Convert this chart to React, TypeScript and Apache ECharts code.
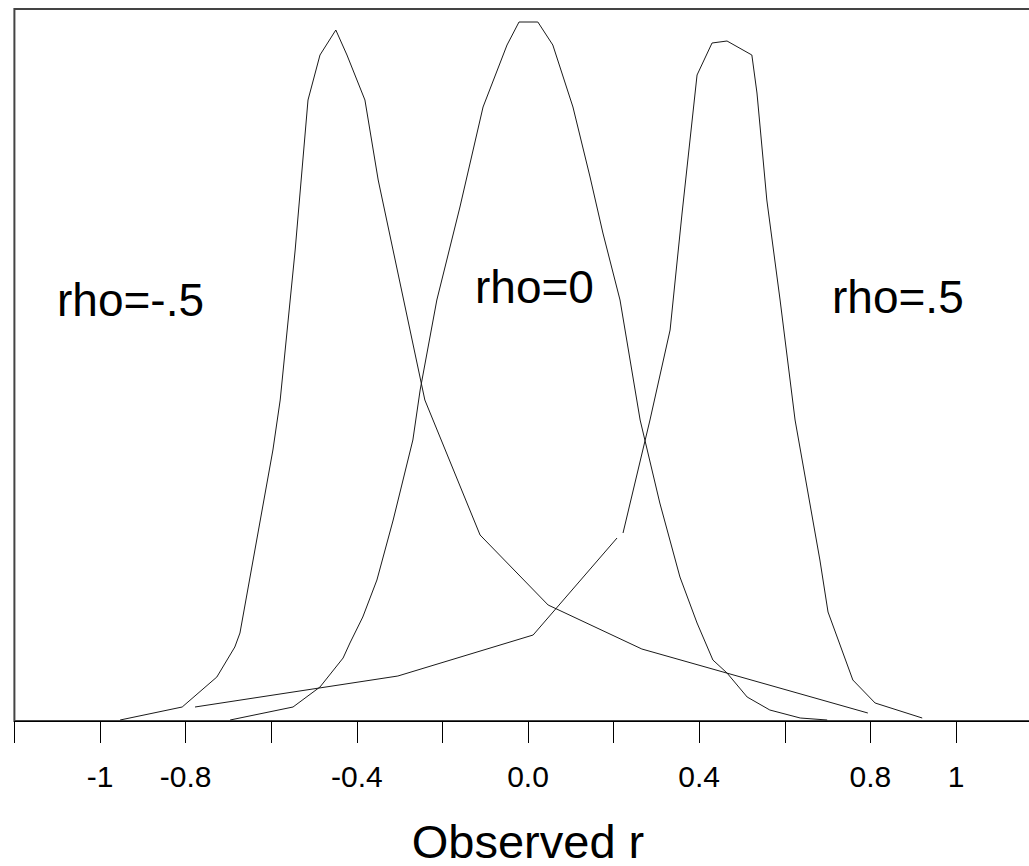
import React, { useEffect, useRef } from "react";
import * as echarts from "echarts";

// Observed r (x) and relative frequency (y) for each sampling distribution
const rhoNeg: [number, number][] = [
  [-0.953, 0.01], [-0.808, 0.14], [-0.727, 0.44], [-0.685, 0.74], [-0.673, 0.88],
  [-0.596, 2.71], [-0.579, 3.21], [-0.544, 4.71], [-0.514, 6.21], [-0.486, 6.66],
  [-0.449, 6.91], [-0.423, 6.66], [-0.381, 6.21], [-0.35, 5.41], [-0.241, 3.21],
  [-0.112, 1.86], [0.047, 1.16], [0.266, 0.72], [0.794, 0.08],
];

const rhoZero: [number, number][] = [
  [-0.696, 0.01], [-0.549, 0.14], [-0.486, 0.34], [-0.432, 0.63], [-0.416, 0.78],
  [-0.386, 1.04], [-0.353, 1.41], [-0.315, 2.01], [-0.269, 2.81], [-0.252, 3.31],
  [-0.213, 4.21], [-0.159, 5.14], [-0.105, 6.14], [-0.049, 6.76], [-0.021, 6.99],
  [0.023, 6.99], [0.058, 6.76], [0.105, 6.14], [0.145, 5.44], [0.175, 4.88],
  [0.215, 4.21], [0.262, 3.01], [0.308, 2.18], [0.355, 1.44], [0.395, 0.98],
  [0.432, 0.61], [0.465, 0.48], [0.512, 0.24], [0.565, 0.11], [0.636, 0.03],
  [0.699, 0.01],
];

const rhoPosLower: [number, number][] = [
  [-0.778, 0.14], [-0.304, 0.45], [0.012, 0.86], [0.208, 1.83],
];

const rhoPosUpper: [number, number][] = [
  [0.222, 1.88], [0.285, 3.01], [0.332, 3.91], [0.36, 5.08], [0.395, 6.46],
  [0.43, 6.78], [0.465, 6.8], [0.523, 6.66], [0.535, 6.28], [0.558, 5.21],
  [0.589, 4.21], [0.624, 3.01], [0.682, 1.61], [0.701, 1.09], [0.759, 0.41],
  [0.811, 0.18], [0.921, 0.03],
];

const tickValues = [-1, -0.8, -0.4, 0, 0.4, 0.8, 1];
const tickLabels = ["-1", "-0.8", "-0.4", "0.0", "0.4", "0.8", "1"];

const seriesNames = ["rho=-.5", "rho=0", "rho=.5"];

export default function App() {
  const ref = useRef<HTMLDivElement>(null);

  useEffect(() => {
    if (!ref.current) return;
    const chart = echarts.init(ref.current, null, { renderer: "svg" });
    const font = "'Liberation Sans', Arial, Helvetica, sans-serif";
    const lineStyle = { color: "#1a1a1a", width: 1 };

    const rhoPos = [...rhoPosLower, ["-", "-"], ...rhoPosUpper];

    chart.setOption({
      animation: false,
      backgroundColor: "#ffffff",
      grid: {
        left: 14.4,
        right: -12.6,
        top: 9,
        bottom: 145,
        containLabel: false,
        outerBoundsMode: "none",
        show: true,
        borderColor: "#444444",
        borderWidth: 2,
        backgroundColor: "transparent",
      },
      xAxis: {
        type: "value",
        min: -1.2,
        max: 1.2,
        interval: 0.2,
        name: "Observed r",
        nameLocation: "middle",
        nameGap: 98,
        nameTextStyle: { fontSize: 47, lineHeight: 44, color: "#000", fontFamily: font },
        axisLine: { show: true, onZero: false, lineStyle: { color: "#000", width: 1 } },
        axisTick: { show: true, inside: false, length: 22, lineStyle: { color: "#000", width: 1 } },
        splitLine: { show: false },
        axisLabel: {
          show: true,
          margin: 40,
          fontSize: 30,
          color: "#000",
          fontFamily: font,
          showMinLabel: true,
          showMaxLabel: true,
          formatter: (v: number) => {
            const r = Math.round(v * 10) / 10;
            const i = tickValues.findIndex((t) => Math.abs(t - r) < 1e-6);
            return i >= 0 ? tickLabels[i] : "";
          },
        },
      },
      yAxis: {
        type: "value",
        min: 0,
        max: 7.12,
        axisLine: { show: false },
        axisTick: { show: false },
        axisLabel: { show: false },
        splitLine: { show: false },
      },
      series: [
        { name: seriesNames[0], type: "line", data: rhoNeg, showSymbol: false, lineStyle, silent: true },
        { name: seriesNames[1], type: "line", data: rhoZero, showSymbol: false, lineStyle, silent: true },
        { name: seriesNames[2], type: "line", data: rhoPos, showSymbol: false, connectNulls: false, lineStyle, silent: true },
      ],
      graphic: [
        { type: "text", left: 57, top: 277, style: { text: seriesNames[0], fill: "#000", font: `46px ${font}` } },
        { type: "text", left: 475, top: 264, style: { text: seriesNames[1], fill: "#000", font: `46px ${font}` } },
        { type: "text", left: 832, top: 274, style: { text: seriesNames[2], fill: "#000", font: `46px ${font}` } },
      ],
    });

    return () => chart.dispose();
  }, []);

  return (
    <div
      ref={ref}
      style={{ position: "absolute", left: 0, top: 0, width: 1029, height: 866, background: "#fff" }}
    />
  );
}
